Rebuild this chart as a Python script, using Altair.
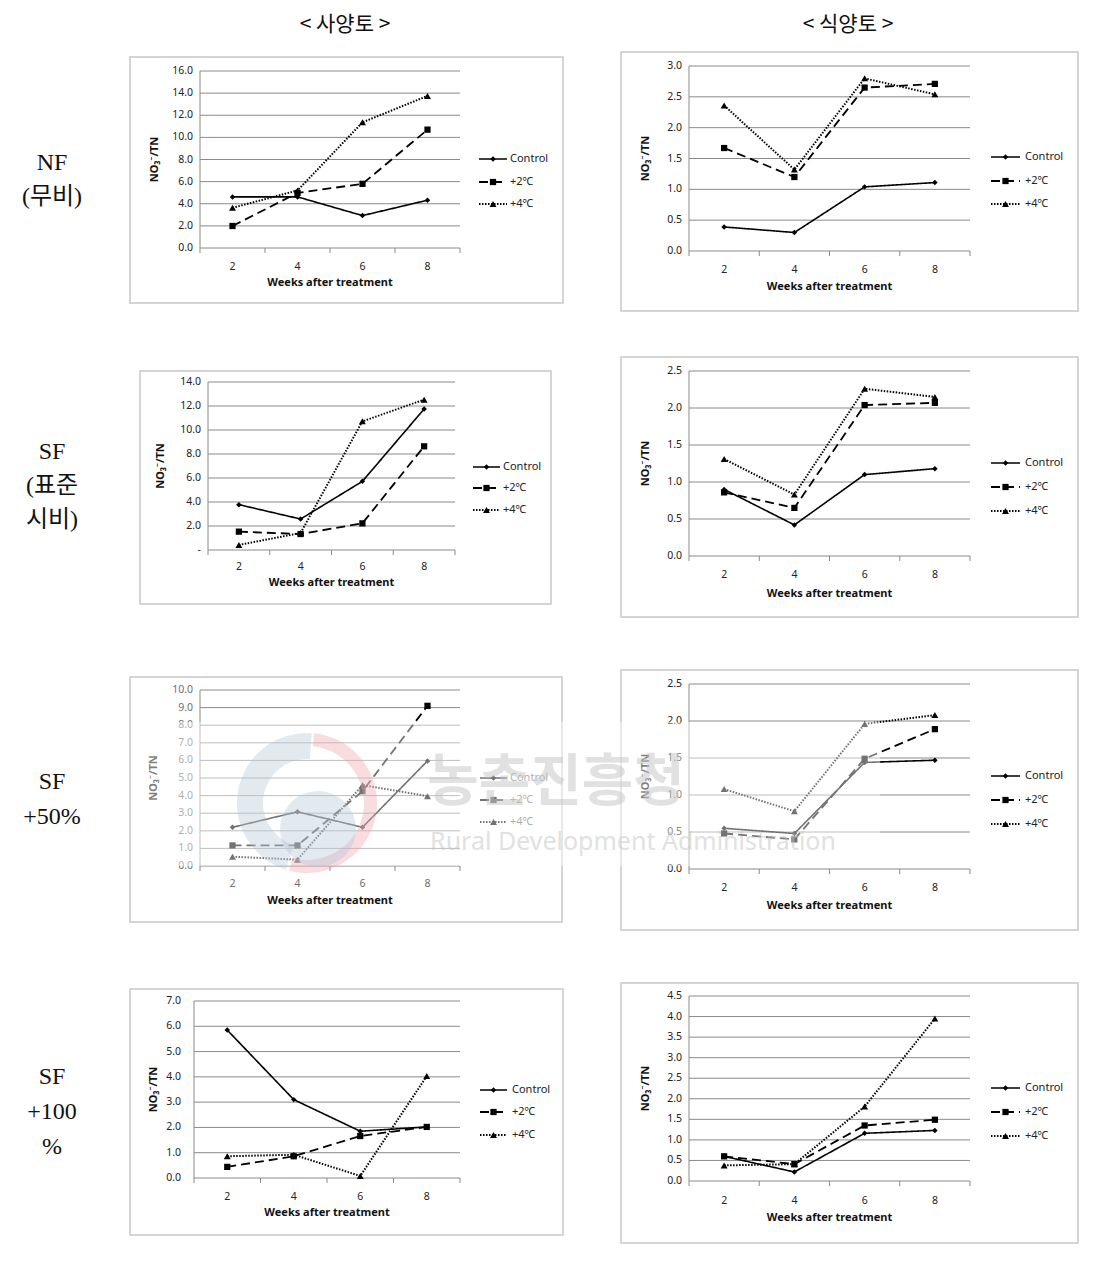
import altair as alt
import pandas as pd

# ---------------- data ----------------
WEEKS = [2, 4, 6, 8]
SERIES = ["Control", "+2℃", "+4℃"]

# NF (무비)
NF_SANDY_CONTROL = [4.62, 4.62, 2.93, 4.32]
NF_SANDY_P2 = [1.99, 4.98, 5.80, 10.70]
NF_SANDY_P4 = [3.63, 5.20, 11.36, 13.75]
NF_CLAY_CONTROL = [0.39, 0.30, 1.04, 1.11]
NF_CLAY_P2 = [1.67, 1.20, 2.65, 2.71]
NF_CLAY_P4 = [2.36, 1.32, 2.80, 2.54]
# SF (표준시비)
SF_SANDY_CONTROL = [3.78, 2.58, 5.72, 11.75]
SF_SANDY_P2 = [1.53, 1.33, 2.22, 8.64]
SF_SANDY_P4 = [0.42, 1.42, 10.72, 12.53]
SF_CLAY_CONTROL = [0.90, 0.42, 1.10, 1.18]
SF_CLAY_P2 = [0.86, 0.65, 2.04, 2.07]
SF_CLAY_P4 = [1.31, 0.83, 2.26, 2.15]
# SF +50%
SF50_SANDY_CONTROL = [2.20, 3.08, 2.20, 5.97]
SF50_SANDY_P2 = [1.17, 1.17, 4.25, 9.10]
SF50_SANDY_P4 = [0.53, 0.36, 4.60, 3.97]
SF50_CLAY_CONTROL = [0.55, 0.48, 1.44, 1.47]
SF50_CLAY_P2 = [0.48, 0.40, 1.49, 1.89]
SF50_CLAY_P4 = [1.08, 0.78, 1.96, 2.08]
# SF +100%
SF100_SANDY_CONTROL = [5.85, 3.10, 1.85, 2.02]
SF100_SANDY_P2 = [0.44, 0.86, 1.66, 2.02]
SF100_SANDY_P4 = [0.86, 0.92, 0.08, 4.03]
SF100_CLAY_CONTROL = [0.60, 0.22, 1.16, 1.23]
SF100_CLAY_P2 = [0.60, 0.41, 1.35, 1.49]
SF100_CLAY_P4 = [0.38, 0.41, 1.81, 3.95]

# y-axis ticks and labels
T16 = [0, 2, 4, 6, 8, 10, 12, 14, 16]
L16 = ["0.0", "2.0", "4.0", "6.0", "8.0", "10.0", "12.0", "14.0", "16.0"]
T14 = [0, 2, 4, 6, 8, 10, 12, 14]
L14 = ["-", "2.0", "4.0", "6.0", "8.0", "10.0", "12.0", "14.0"]
T10 = [0, 1, 2, 3, 4, 5, 6, 7, 8, 9, 10]
L10 = ["0.0", "1.0", "2.0", "3.0", "4.0", "5.0", "6.0", "7.0", "8.0", "9.0", "10.0"]
T7 = [0, 1, 2, 3, 4, 5, 6, 7]
L7 = ["0.0", "1.0", "2.0", "3.0", "4.0", "5.0", "6.0", "7.0"]
T3 = [0, 0.5, 1.0, 1.5, 2.0, 2.5, 3.0]
L3 = ["0.0", "0.5", "1.0", "1.5", "2.0", "2.5", "3.0"]
T25 = [0, 0.5, 1.0, 1.5, 2.0, 2.5]
L25 = ["0.0", "0.5", "1.0", "1.5", "2.0", "2.5"]
T45 = [0, 0.5, 1.0, 1.5, 2.0, 2.5, 3.0, 3.5, 4.0, 4.5]
L45 = ["0.0", "0.5", "1.0", "1.5", "2.0", "2.5", "3.0", "3.5", "4.0", "4.5"]

COL_HEADERS = ["< 사양토 >", "< 식양토 >"]
ROW_LABEL_LINES = ["NF", "(무비)", "SF", "(표준", "시비)", "SF", "+50%", "SF", "+100", "%"]
X_TITLE = "Weeks after treatment"
Y_TITLE = "NO₃⁻/TN"

# ---------------- layout (page pixels) ----------------
PAD_TOP = 6
OX = 8
OY = 8 + PAD_TOP
FONT = "Noto Sans, Noto Sans CJK KR, DejaVu Sans"
SERIF = "Liberation Serif, Noto Sans CJK KR"

DASHES = [[1, 0], [9, 5], [1.5, 1.5]]
WIDTHS = [1.6, 2.0, 1.2]
SHAPES = ["diamond", "square", "triangle-up"]
SIZES = [30, 48, 45]

LEFT_A = dict(lx=(479, 507), tx=510)
RIGHT_A = dict(xr=(689, 970), ylr=682, ytx=646, lx=(991, 1020), tx=1025)

GEOS = [
    dict(frame=(130, 57, 563, 303), xr=(200, 460), yr=(248, 71), ylr=193, xly=267, xty=283,
         ytx=155, ly=(159, 182, 204), **LEFT_A),
    dict(frame=(621, 52, 1078, 311), yr=(251, 66), xly=270, xty=287, ly=(157, 181, 204), **RIGHT_A),
    dict(frame=(140, 371, 551, 604), xr=(208, 455), yr=(550, 382), ylr=201, xly=567, xty=583,
         ytx=161, ly=(467, 488, 510), lx=(473, 500), tx=503),
    dict(frame=(621, 357, 1078, 617), yr=(556, 371), xly=575, xty=594, ly=(463, 487, 511), **RIGHT_A),
    dict(frame=(130, 677, 562, 922), xr=(200, 460), yr=(866, 690), ylr=193, xly=884, xty=901,
         ytx=154, ly=(778, 800, 822), lx=(480, 507), tx=510),
    dict(frame=(621, 670, 1078, 930), yr=(869, 684), xly=888, xty=906, ly=(776, 800, 824), **RIGHT_A),
    dict(frame=(130, 989, 563, 1235), xr=(194, 460), yr=(1178, 1001), ylr=181, xly=1197, xty=1213,
         ytx=154, ly=(1090, 1112, 1135), lx=(480, 507), tx=512),
    dict(frame=(621, 983, 1078, 1243), yr=(1181, 996), xly=1201, xty=1218, ly=(1088, 1112, 1136), **RIGHT_A),
]

PANELS = [
    ([NF_SANDY_CONTROL, NF_SANDY_P2, NF_SANDY_P4], T16, L16, "#222222"),
    ([NF_CLAY_CONTROL, NF_CLAY_P2, NF_CLAY_P4], T3, L3, "#222222"),
    ([SF_SANDY_CONTROL, SF_SANDY_P2, SF_SANDY_P4], T14, L14, "#222222"),
    ([SF_CLAY_CONTROL, SF_CLAY_P2, SF_CLAY_P4], T25, L25, "#222222"),
    ([SF50_SANDY_CONTROL, SF50_SANDY_P2, SF50_SANDY_P4], T10, L10, "#6e6e6e"),
    ([SF50_CLAY_CONTROL, SF50_CLAY_P2, SF50_CLAY_P4], T25, L25, "#222222"),
    ([SF100_SANDY_CONTROL, SF100_SANDY_P2, SF100_SANDY_P4], T7, L7, "#222222"),
    ([SF100_CLAY_CONTROL, SF100_CLAY_P2, SF100_CLAY_P4], T45, L45, "#222222"),
]

dash_enc = alt.StrokeDash("series:N", scale=alt.Scale(domain=SERIES, range=DASHES), legend=None)
width_enc = alt.StrokeWidth("series:N", scale=alt.Scale(domain=SERIES, range=WIDTHS), legend=None)
shape_enc = alt.Shape("series:N", scale=alt.Scale(domain=SERIES, range=SHAPES), legend=None)
size_enc = alt.Size("series:N", scale=alt.Scale(domain=SERIES, range=SIZES), legend=None)


def build_panel(series_vals, ticks, labels, text_color, g):
    L, R = g["xr"]
    B, T = g["yr"]
    ymax = ticks[-1]
    xs = alt.Scale(domain=[1, 9], range=[L - OX, R - OX], nice=False, zero=False)
    ys = alt.Scale(domain=[0, ymax], range=[B - OY, T - OY], nice=False, zero=False)

    def X(f):
        return alt.X(f, scale=xs, axis=None)

    def Y(f):
        return alt.Y(f, scale=ys, axis=None)

    df = pd.DataFrame([{"week": w, "value": v, "series": s}
                       for s, vals in zip(SERIES, series_vals) for w, v in zip(WEEKS, vals)])
    tdf = pd.DataFrame({"v": ticks, "lab": labels, "xa": 1, "xb": 9})
    one = pd.DataFrame({"xa": [1], "xb": [9], "y0": [0], "y1": [ymax], "ym": [ymax / 2], "xm": [5]})
    xt = pd.DataFrame({"xt": [1, 3, 5, 7, 9], "y0": 0})
    wdf = pd.DataFrame({"week": WEEKS, "lab": [str(w) for w in WEEKS], "y0": 0})

    fx0, fy0, fx1, fy1 = g["frame"]
    frame = alt.Chart(pd.DataFrame({"a": [0]})).mark_rect(
        fill="white", stroke="#c8c8c8", strokeWidth=1.5
    ).encode(x=alt.value(fx0 - OX), x2=alt.value(fx1 - OX), y=alt.value(fy0 - OY), y2=alt.value(fy1 - OY))

    grid = alt.Chart(tdf).mark_rule(color="#8a8a8a", strokeWidth=1).encode(
        x=X("xa:Q"), x2="xb:Q", y=Y("v:Q"))
    yaxis = alt.Chart(one).mark_rule(color="#8a8a8a", strokeWidth=1).encode(
        x=X("xa:Q"), y=Y("y0:Q"), y2="y1:Q")
    xticks = alt.Chart(xt).mark_rule(color="#8a8a8a", strokeWidth=1).encode(
        x=X("xt:Q"), y=Y("y0:Q"), y2=alt.value(B - OY + 5))
    ylabels = alt.Chart(tdf).mark_text(
        align="right", baseline="middle", dx=-(L - g["ylr"]), fontSize=10.5, font=FONT, color=text_color
    ).encode(x=X("xa:Q"), y=Y("v:Q"), text="lab:N")
    xlabels = alt.Chart(wdf).mark_text(
        align="center", baseline="middle", dy=g["xly"] - B, fontSize=10.5, font=FONT, color=text_color
    ).encode(x=X("week:Q"), y=Y("y0:Q"), text="lab:N")
    xtitle = alt.Chart(one).mark_text(
        text=X_TITLE, align="center", baseline="middle", dy=g["xty"] - B, fontSize=11,
        fontWeight="bold", font=FONT, color="#111111"
    ).encode(x=X("xm:Q"), y=Y("y0:Q"))
    ytitle = alt.Chart(one).mark_text(
        text=Y_TITLE, angle=270, align="center", baseline="middle", fontSize=11,
        fontWeight="bold", font=FONT, color="#111111"
    ).encode(x=alt.value(g["ytx"] - OX), y=Y("ym:Q"))

    lines = alt.Chart(df).mark_line(color="black").encode(
        x=X("week:Q"), y=Y("value:Q"), detail="series:N", strokeDash=dash_enc, strokeWidth=width_enc)
    points = alt.Chart(df).mark_point(filled=True, color="black", opacity=1).encode(
        x=X("week:Q"), y=Y("value:Q"), shape=shape_enc, size=size_enc)

    panel = alt.layer(frame, grid, yaxis, xticks, ylabels, xlabels, xtitle, ytitle, lines, points)

    lx0, lx1 = g["lx"]
    ldf = pd.DataFrame({
        "series": SERIES,
        "ly": [y - OY for y in g["ly"]],
        "lx0": lx0 - OX, "lx1": lx1 - OX, "lxm": (lx0 + lx1) / 2 - OX, "tx": g["tx"] - OX,
    })
    lrule = alt.Chart(ldf).mark_rule(color="black").encode(
        x=alt.X("lx0:Q", scale=None, axis=None), x2="lx1:Q",
        y=alt.Y("ly:Q", scale=None, axis=None), strokeDash=dash_enc, strokeWidth=width_enc)
    lpoint = alt.Chart(ldf).mark_point(filled=True, color="black", opacity=1).encode(
        x=alt.X("lxm:Q", scale=None, axis=None), y=alt.Y("ly:Q", scale=None, axis=None),
        shape=shape_enc, size=size_enc)
    ltext = alt.Chart(ldf).mark_text(
        align="left", baseline="middle", fontSize=11, font=FONT, color=text_color
    ).encode(x=alt.X("tx:Q", scale=None, axis=None), y=alt.Y("ly:Q", scale=None, axis=None),
             text="series:N")
    return [panel, lrule, lpoint, ltext]


layers = []
for (vals, ticks, labels, tc), g in zip(PANELS, GEOS):
    layers.extend(build_panel(vals, ticks, labels, tc, g))

# column headers
hdf = pd.DataFrame({"t": COL_HEADERS, "x": [345 - OX, 848 - OX], "y": [25 - OY, 25 - OY]})
layers.append(alt.Chart(hdf).mark_text(
    fontSize=21, font="Noto Sans CJK KR", color="#111111", align="center", baseline="middle"
).encode(x=alt.X("x:Q", scale=None, axis=None), y=alt.Y("y:Q", scale=None, axis=None), text="t:N"))

# row labels
rdf = pd.DataFrame({
    "t": ROW_LABEL_LINES,
    "y": [v - OY for v in [163, 197, 452, 486, 520, 782, 817, 1077, 1112, 1147]],
})
layers.append(alt.Chart(rdf).mark_text(
    fontSize=24, font=SERIF, color="#111111", align="center", baseline="middle"
).encode(x=alt.value(52 - OX), y=alt.Y("y:Q", scale=None, axis=None), text="t:N"))

# watermark
one = pd.DataFrame({"a": [0]})
layers.append(alt.Chart(one).mark_rect(fill="white", opacity=0.45).encode(
    x=alt.value(140 - OX), x2=alt.value(880 - OX), y=alt.value(722 - OY), y2=alt.value(866 - OY)))
layers.append(alt.Chart(one).mark_arc(
    radius=70, radius2=44, theta=3.45, theta2=6.35, color="#b4c4d6", opacity=0.38
).encode(x=alt.value(307 - OX), y=alt.value(803 - OY)))
layers.append(alt.Chart(one).mark_arc(
    radius=70, radius2=57, theta=0.1, theta2=3.4, color="#f0a4ad", opacity=0.38
).encode(x=alt.value(307 - OX), y=alt.value(803 - OY)))
layers.append(alt.Chart(one).mark_arc(
    radius=38, theta=0, theta2=6.2832, color="#b4c4d6", opacity=0.38
).encode(x=alt.value(318 - OX), y=alt.value(829 - OY)))
wdf = pd.DataFrame({"t": ["농촌진흥청", "Rural Development Administration"],
                    "x": [556 - OX, 633 - OX], "y": [783 - OY, 842 - OY]})
layers.append(alt.Chart(wdf.iloc[:1]).mark_text(
    fontSize=56, fontWeight="bold", font="Noto Sans CJK KR", color="#c4c4c4", opacity=0.5,
    align="center", baseline="middle"
).encode(x=alt.X("x:Q", scale=None, axis=None), y=alt.Y("y:Q", scale=None, axis=None), text="t:N"))
layers.append(alt.Chart(wdf.iloc[1:]).mark_text(
    fontSize=25, font="Noto Sans", color="#c4c4c4", opacity=0.5,
    align="center", baseline="middle"
).encode(x=alt.X("x:Q", scale=None, axis=None), y=alt.Y("y:Q", scale=None, axis=None), text="t:N"))

chart = alt.layer(*layers).resolve_scale(
    x="independent", y="independent"
).properties(
    width=1080, height=1239,
    padding={"left": 0, "top": PAD_TOP, "right": 0, "bottom": 0},
    autosize=alt.AutoSizeParams(type="none"),
).configure_view(stroke=None)

chart.save("out.html", embed_options={"renderer": "svg", "actions": False})
